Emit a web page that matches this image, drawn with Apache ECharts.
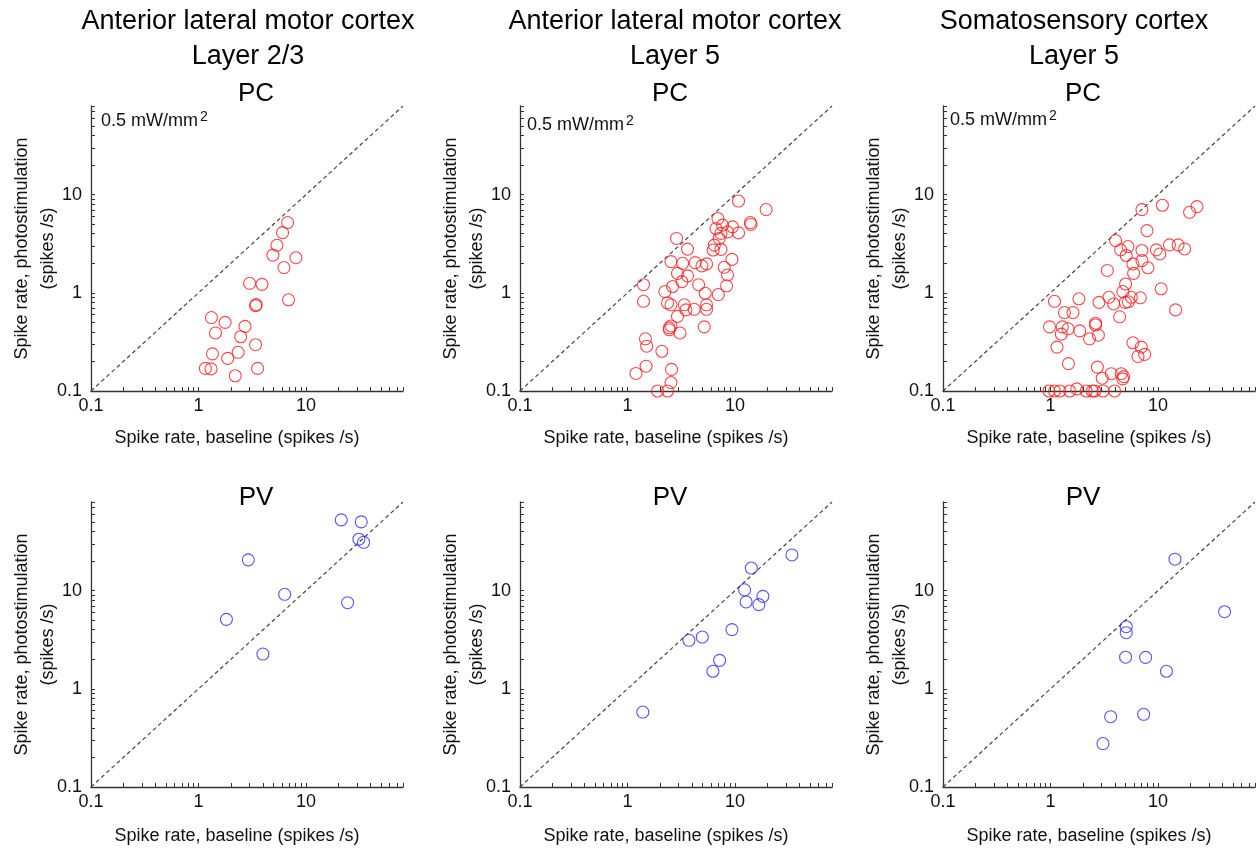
<!DOCTYPE html>
<html><head><meta charset="utf-8">
<script src="https://cdn.jsdelivr.net/npm/echarts@6/dist/echarts.min.js"></script>
<style>html,body{margin:0;padding:0;background:#fff}#c{width:1258px;height:852px}</style>
</head><body><div id="c"></div>
<script>
// ---------- text ----------
const columnTitles = ['Anterior lateral motor cortex\nLayer 2/3', 'Anterior lateral motor cortex\nLayer 5', 'Somatosensory cortex\nLayer 5'];
const rowTitles = ['PC', 'PV'];
const powerText = '0.5 mW/mm';
const powerSup = '2';
const xAxisName = 'Spike rate, baseline (spikes /s)';
const yAxisName = 'Spike rate, photostimulation\n(spikes /s)';

// ---------- axes ----------
const axisMin = 0.1, axisMax = 80;
const tickValues = [0.1,0.2,0.3,0.4,0.5,0.6,0.7,0.8,0.9,1,2,3,4,5,6,7,8,9,10,20,30,40,50,60,70,80];
const labelValues = [0.1, 1, 10];
const identityLine = [[0.1, 0.1], [80, 80]];

// ---------- data: [baseline, photostimulation] (spikes/s) ----------
const pcALM23 = [[6.75,5.2],[6.06,4.1],[5.37,3.05],[4.93,2.42],[8.07,2.28],[6.24,1.81],[2.99,1.25],[3.9,1.22],[3.4,0.74],[3.45,0.76],[6.89,0.85],[1.32,0.56],[1.77,0.5],[2.71,0.455],[1.44,0.39],[2.47,0.357],[3.4,0.296],[1.35,0.239],[1.87,0.215],[2.34,0.248],[1.16,0.17],[1.31,0.168],[3.55,0.17],[2.2,0.143]];
const pcALM5 = [[10.8,8.61],[19.5,7.05],[6.95,5.71],[13.9,5.2],[14.1,4.97],[6.66,4.52],[7.67,4.89],[9.5,4.7],[8.53,4.18],[10.8,4.08],[7.41,4.03],[7.14,3.58],[6.42,3.06],[6.28,2.73],[7.41,2.77],[2.86,3.58],[3.62,2.79],[9.37,2.19],[2.54,2.08],[3.26,2.0],[4.27,2.03],[5.44,1.97],[4.93,1.88],[7.95,1.82],[2.92,1.58],[3.62,1.49],[8.53,1.52],[3.21,1.3],[2.63,1.16],[4.59,1.21],[8.35,1.18],[5.29,0.99],[7.0,0.96],[2.23,1.03],[1.41,1.21],[1.41,0.82],[2.36,0.79],[2.54,0.755],[3.38,0.755],[3.5,0.67],[4.18,0.68],[5.44,0.755],[5.44,0.68],[2.92,0.575],[2.54,0.46],[2.45,0.42],[3.08,0.39],[5.18,0.45],[2.45,0.44],[1.47,0.34],[1.51,0.286],[2.09,0.254],[1.49,0.179],[1.2,0.151],[2.57,0.166],[2.54,0.122],[1.91,0.1],[2.36,0.1]];
const pcS1L5 = [[7.1,7.04],[11.0,7.8],[19.7,6.61],[23.1,7.55],[7.9,4.3],[4.04,3.41],[4.5,2.74],[5.26,2.96],[5.07,2.4],[7.1,2.7],[9.65,2.74],[10.4,2.49],[12.8,3.08],[15.4,3.08],[17.7,2.8],[7.1,2.13],[8.07,1.8],[5.85,1.97],[5.94,1.58],[3.38,1.69],[5.0,1.23],[4.72,1.03],[10.7,1.1],[3.5,0.9],[5.65,0.9],[6.85,0.89],[4.97,0.8],[5.3,0.81],[3.87,0.77],[2.83,0.8],[1.84,0.87],[1.09,0.82],[14.6,0.67],[4.4,0.57],[1.35,0.63],[1.62,0.63],[0.98,0.45],[1.29,0.45],[1.46,0.43],[1.26,0.38],[1.87,0.41],[2.63,0.49],[2.63,0.47],[2.79,0.37],[2.31,0.34],[5.85,0.31],[7.0,0.28],[6.52,0.225],[7.52,0.236],[1.15,0.28],[1.47,0.19],[2.73,0.175],[3.03,0.135],[3.68,0.15],[4.56,0.15],[4.7,0.133],[4.8,0.14],[0.97,0.1],[1.09,0.1],[1.22,0.1],[1.51,0.1],[1.76,0.105],[2.15,0.1],[2.45,0.1],[2.58,0.1],[3.08,0.1],[3.95,0.1]];
const pvALM23 = [[21.3,52.6],[32.7,50.2],[31.1,33.4],[34.4,31.1],[2.91,20.6],[6.34,9.18],[24.4,7.54],[1.82,5.1],[3.98,2.26]];
const pvALM5 = [[33.9,23.1],[14.2,17.0],[12.3,10.2],[18.2,8.75],[12.7,7.67],[16.7,7.2],[9.38,4.01],[3.73,3.12],[4.97,3.37],[7.2,1.95],[6.24,1.51],[1.39,0.58]];
const pvS1L5 = [[14.4,20.9],[41.7,6.1],[5.07,4.29],[5.07,3.73],[5.0,2.1],[7.68,2.09],[12.0,1.51],[3.63,0.52],[7.36,0.55],[3.08,0.277]];

const panelData = [pcALM23, pcALM5, pcS1L5, pvALM23, pvALM5, pvS1L5];

// ---------- layout / style ----------
const FONT = '"Liberation Sans", Arial, Helvetica, sans-serif';
const colLeft = [91, 520, 943];
const rowTop = [106, 502];
const PW = 312, PH = 285;
const rowColor = ['#ff1a1a', '#2a2aff'];
const xNameGap = [38, 40];
const subTitleX = [256, 670, 1083];
const subTitleY = [94, 498];
const colTitleX = [248, 675, 1074];
const annX = [101, 527, 950];
const annY = [121, 125, 120];
const AX = '#333';

const grids = [], xAxes = [], yAxes = [], series = [], graphics = [];
for (let r = 0; r < 2; r++) {
  for (let c = 0; c < 3; c++) {
    const i = r * 3 + c;
    grids.push({left: colLeft[c], top: rowTop[r], width: PW, height: PH, containLabel: false, outerBoundsMode: 'none'});
    const common = {
      type: 'log', logBase: 10, gridIndex: i, min: axisMin, max: axisMax,
      axisLine: {show: true, lineStyle: {color: AX, width: 1.3}},
      axisTick: {show: true, inside: true, length: 4, customValues: tickValues, lineStyle: {color: AX, width: 1}},
      minorTick: {show: false}, splitLine: {show: false},
      axisLabel: {customValues: labelValues, fontSize: 18, color: '#111', fontFamily: FONT,
        formatter: v => String(+(+v).toPrecision(3))},
      nameLocation: 'middle', nameMoveOverlap: false
    };
    xAxes.push(Object.assign({}, common, {
      axisLabel: Object.assign({}, common.axisLabel, {margin: 6}),
      name: xAxisName, nameGap: xNameGap[r],
      nameTextStyle: {fontSize: 18, color: '#111', fontFamily: FONT, padding: [0, 20, 0, 0]}
    }));
    yAxes.push(Object.assign({}, common, {
      axisLabel: Object.assign({}, common.axisLabel, {margin: 9}),
      name: yAxisName, nameGap: 30, nameRotate: 90,
      nameTextStyle: {fontSize: 18, color: '#111', fontFamily: FONT, lineHeight: 26, align: 'center'}
    }));
    series.push({
      type: 'line', xAxisIndex: i, yAxisIndex: i, data: identityLine, symbol: 'none', silent: true, z: 1,
      lineStyle: {color: '#444', width: 1.2, type: [4, 3]}
    });
    series.push({
      type: 'scatter', xAxisIndex: i, yAxisIndex: i, data: panelData[i], symbol: 'circle', symbolSize: 12,
      silent: true, z: 3,
      itemStyle: {color: 'rgba(0,0,0,0)', borderColor: rowColor[r], borderWidth: 1.1}
    });
    graphics.push({type: 'text', x: subTitleX[c], y: subTitleY[r], silent: true,
      style: {text: rowTitles[r], font: '26px ' + FONT, fill: '#000', align: 'center', verticalAlign: 'middle', textAlign: 'center', textVerticalAlign: 'middle'}});
    if (r === 0) {
      graphics.push({type: 'text', x: annX[c], y: annY[c], silent: true,
        style: {text: '{a|' + powerText + '}{b|' + powerSup + '}', fill: '#111', verticalAlign: 'middle', textVerticalAlign: 'middle',
          rich: {a: {fontSize: 18, fontFamily: FONT, fill: '#111', lineHeight: 22},
                 b: {fontSize: 14, fontFamily: FONT, fill: '#111', verticalAlign: 'top', lineHeight: 14, padding: [0, 0, 0, 2]}}}});
    }
  }
}
for (let c = 0; c < 3; c++) {
  graphics.push({type: 'text', x: colTitleX[c], y: 39.5, silent: true,
    style: {text: columnTitles[c], font: '27px ' + FONT, fill: '#000', lineHeight: 35, align: 'center', verticalAlign: 'middle', textAlign: 'center', textVerticalAlign: 'middle'}});
}

const chart = echarts.init(document.getElementById('c'), null, {renderer: 'canvas'});
chart.setOption({
  animation: false,
  backgroundColor: '#fff',
  grid: grids, xAxis: xAxes, yAxis: yAxes, series: series,
  graphic: graphics
});
</script></body></html>
